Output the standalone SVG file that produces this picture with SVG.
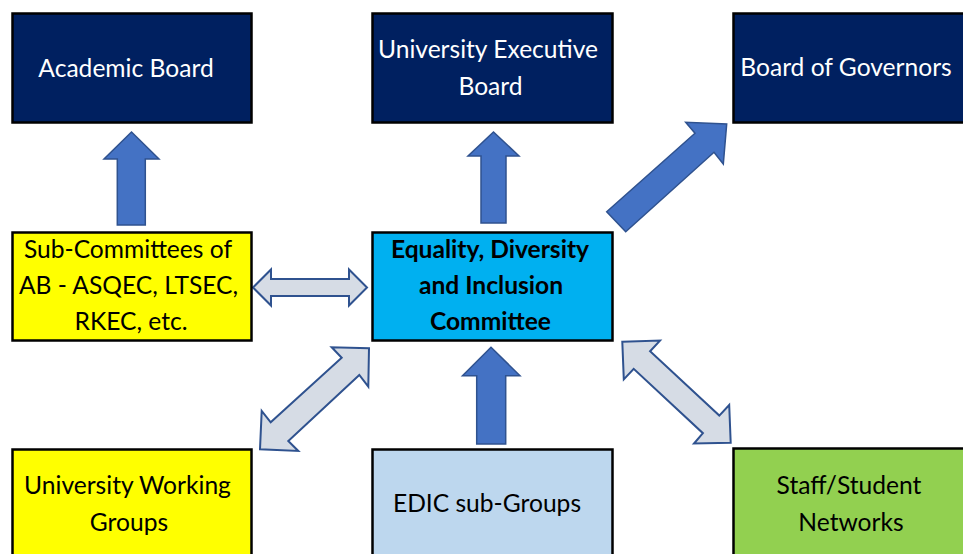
<svg xmlns="http://www.w3.org/2000/svg" width="963" height="554" viewBox="0 0 963 554">
<style>
.box{stroke:#000;stroke-width:2.5}
.navy{fill:#002060}
.yellow{fill:#FFFF00}
.cyan{fill:#00B0F0}
.lblue{fill:#BDD7EE}
.green{fill:#92D050}
text{font-family:Lato,"Liberation Sans",sans-serif;font-size:24.6px;text-anchor:middle}
.w{fill:#fff}
.k{fill:#000}
.b{font-weight:bold}
.solid{fill:#4472C4;stroke:#2F528F;stroke-width:1.5;stroke-linejoin:miter}
.light{fill:#D6DCE5;stroke:#2F528F;stroke-width:2;stroke-linejoin:miter}
</style>
<rect width="963" height="554" fill="#fff"/>
<g id="connectors">
<polygon class="solid" points="131.5,132 159,159 145.3,159 145.3,225 117.3,225 117.3,159 104,159"/>
<polygon class="solid" points="493.5,132 519,156 506,156 506,223 481,223 481,156 468,156"/>
<polygon class="solid" points="726.7,124 723.3,164 714,152.3 625.7,231.7 606.7,211.7 695,133.3 685.7,122.3"/>
<polygon class="solid" points="491,347.3 520,375.7 505.7,375.7 505.7,444 476.7,444 476.7,375.7 462.5,375.7"/>
<polygon class="light" points="253,287.5 271,269.5 271,279 349,279 349,269.5 367,287.5 349,305.5 349,296 271,296 271,305.5"/>
<polygon class="light" points="369,348.3 368.3,386.7 359.3,375 288.3,441 298.3,451 260,449.3 261.7,411 270.7,422.3 341.7,357.7 331.7,347.3"/>
<polygon class="light" points="622.3,341.7 660,340.6 650.1,351.2 719.3,415.6 729.2,405 730.7,442.7 694,443.5 702.9,433.2 633.7,368.8 623.8,379.4"/>
</g>
<g id="academic-board">
<rect class="box navy" x="12.5" y="13.5" width="239" height="109"/>
<text class="w" x="126" y="77">Academic Board</text>
</g>
<g id="university-executive-board">
<rect class="box navy" x="372.5" y="13.5" width="240" height="109"/>
<text class="w" x="488" y="58">University Executive</text>
<text class="w" x="490.5" y="95">Board</text>
</g>
<g id="board-of-governors">
<rect class="box navy" x="733.5" y="13.5" width="240" height="109"/>
<text class="w" x="846" y="76">Board of Governors</text>
</g>
<g id="sub-committees">
<rect class="box yellow" x="12.5" y="232.5" width="239" height="108"/>
<text class="k" x="128" y="258">Sub-Committees of</text>
<text class="k" x="128.5" y="294">AB - ASQEC, LTSEC,</text>
<text class="k" x="131" y="330">RKEC, etc.</text>
</g>
<g id="edic">
<rect class="box cyan" x="372.5" y="232.5" width="240" height="108"/>
<text class="k b" x="490" y="258">Equality, Diversity</text>
<text class="k b" x="491" y="294">and Inclusion</text>
<text class="k b" x="490.5" y="330">Committee</text>
</g>
<g id="university-working-groups">
<rect class="box yellow" x="12.5" y="449.5" width="239" height="110"/>
<text class="k" x="127.5" y="494">University Working</text>
<text class="k" x="129" y="531">Groups</text>
</g>
<g id="edic-sub-groups">
<rect class="box lblue" x="372.5" y="449.5" width="240" height="110"/>
<text class="k" x="487" y="512">EDIC sub-Groups</text>
</g>
<g id="staff-student-networks">
<rect class="box green" x="733.5" y="448.5" width="240" height="110"/>
<text class="k" x="849" y="494">Staff/Student</text>
<text class="k" x="851" y="531">Networks</text>
</g>
</svg>
